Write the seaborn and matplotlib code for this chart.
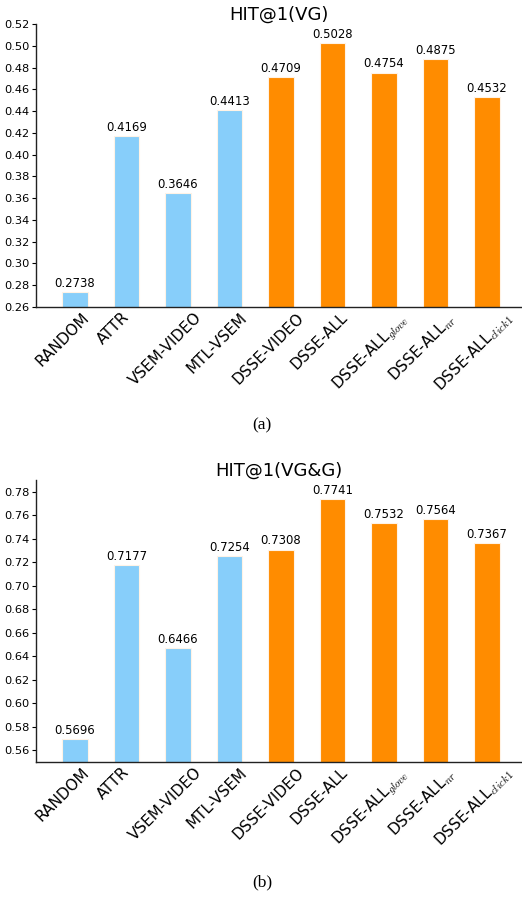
import numpy as np
import pandas as pd
import matplotlib
matplotlib.use("Agg")
import matplotlib.pyplot as plt
import seaborn as sns

methods = ["RANDOM", "ATTR", "VSEM-VIDEO", "MTL-VSEM", "DSSE-VIDEO", "DSSE-ALL",
           "DSSE-ALL$_{glove}$", "DSSE-ALL$_{nr}$", "DSSE-ALL$_{click1}$"]
groups = ["baseline"] * 4 + ["ours"] * 5
hit1_vg = [0.2738, 0.4169, 0.3646, 0.4413, 0.4709, 0.5028, 0.4754, 0.4875, 0.4532]
hit1_vgg = [0.5696, 0.7177, 0.6466, 0.7254, 0.7308, 0.7741, 0.7532, 0.7564, 0.7367]
yticks_vg = [0.26, 0.28, 0.30, 0.32, 0.34, 0.36, 0.38, 0.40, 0.42, 0.44, 0.46, 0.48, 0.50, 0.52]
yticks_vgg = [0.56, 0.58, 0.60, 0.62, 0.64, 0.66, 0.68, 0.70, 0.72, 0.74, 0.76, 0.78]

sns.set_style("ticks")
plt.rcParams["font.family"] = ["DejaVu Sans"]
plt.rcParams["mathtext.fontset"] = "cm"
for key in ["text.color", "axes.labelcolor", "xtick.color", "ytick.color", "axes.edgecolor"]:
    plt.rcParams[key] = "black"

palette = {"baseline": "#87CEFA", "ours": "#FF8C00"}

fig = plt.figure(figsize=(5.22, 8.99), dpi=100)
ax_a = fig.add_axes([0.069, 0.6585, 0.931, 0.3148])
ax_b = fig.add_axes([0.069, 0.1524, 0.931, 0.3137])


def draw(ax, values, title, ylim, yticks):
    df = pd.DataFrame({"method": methods, "score": values, "group": groups})
    sns.barplot(data=df, x="method", y="score", hue="group", palette=palette,
                saturation=1, dodge=False, width=0.5, legend=False, ax=ax,
                edgecolor="#fff3e6", linewidth=0.8)
    for cont in ax.containers:
        ax.bar_label(cont, fmt="%.4f", padding=1.5, fontsize=8.4, color="black")
    ax.set_ylim(*ylim)
    ax.set_yticks(yticks)
    ax.set_yticklabels([f"{t:.2f}" for t in yticks], fontsize=8.2)
    pos = np.arange(len(methods)) - 0.25
    ax.set_xticks(pos)
    ax.set_xticklabels(methods, rotation=45, ha="center", fontsize=11)
    ax.set_xlim(-0.757, 8.68)
    ax.tick_params(axis="x", length=0, pad=2)
    ax.tick_params(axis="y", length=3, width=0.8, direction="out", pad=1.5)
    ax.set_xlabel("")
    ax.set_ylabel("")
    for s in ["top", "right"]:
        ax.spines[s].set_visible(False)
    for s in ["left", "bottom"]:
        ax.spines[s].set_linewidth(1.0)
        ax.spines[s].set_color("#222222")
    ax.set_title(title, fontsize=13, pad=3)


draw(ax_a, hit1_vg, "HIT@1(VG)", (0.26, 0.52), yticks_vg)
draw(ax_b, hit1_vgg, "HIT@1(VG&G)", (0.55, 0.79), yticks_vgg)

fig.text(0.502, 0.527, "(a)", ha="center", va="center", fontsize=12.5,
         family="Liberation Serif")
fig.text(0.502, 0.018, "(b)", ha="center", va="center", fontsize=12.5,
         family="Liberation Serif")

fig.savefig("out.png", dpi=100)
